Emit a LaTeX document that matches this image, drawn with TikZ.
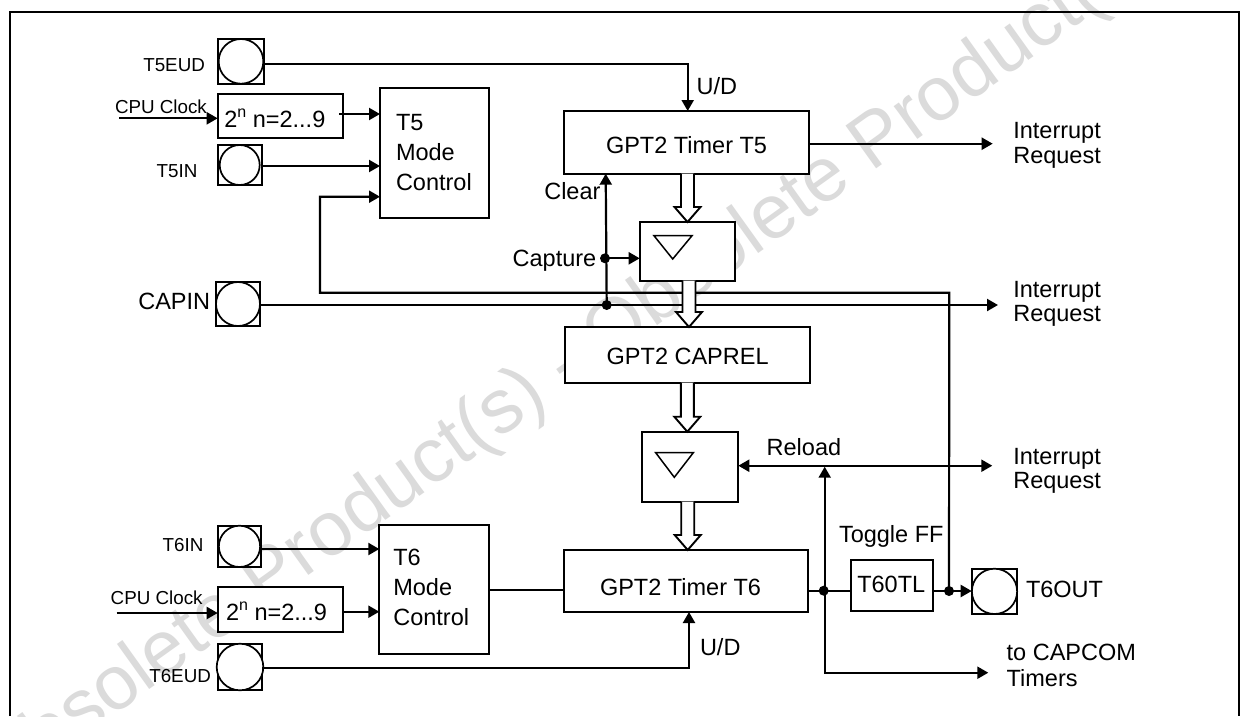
\documentclass[tikz,border=0pt]{standalone}
\usepackage{fontspec}
\setmainfont{Liberation Sans}
\usetikzlibrary{arrows.meta,calc}
\newcommand{\bigsz}{\fontsize{23.5}{25}\selectfont}
\newcommand{\smallsz}{\fontsize{18.8}{20}\selectfont}
\newcommand{\powtext}{2\raisebox{10pt}{\fontsize{16}{17}\selectfont n} n=2...9}
% box from corners
\newcommand{\boxn}[5]{\node[blockbox,minimum width={(#4-#2)*1pt},minimum height={(#5-#3)*1pt}] (#1) at ({(#2+#4)/2},{(#3+#5)/2}) {};}
% pad: square plus circle
\newcommand{\padn}[5]{\node[padbox,minimum width={(#4-#2)*1pt},minimum height={(#5-#3)*1pt}] (#1) at ({(#2+#4)/2},{(#3+#5)/2}) {};
 \node[padcircle,minimum size={(#5-#3)*1pt}] (#1c) at (#1.center) {};}
% hollow bus arrow: from, to, centre x
\newcommand{\hollow}[3]{
 \coordinate (htip) at (#2.north -| #3,0);
 \coordinate (hsrc) at (#1.south -| #3,0);
 \draw[hollowline,fill=white] ($(hsrc)+(-6.5,0)$) -- ($(htip)+(-6.5,-15)$) -- ($(htip)+(-13,-15)$) -- (htip) -- ($(htip)+(13,-15)$) -- ($(htip)+(6.5,-15)$) -- ($(hsrc)+(6.5,0)$);}
\tikzset{
 blockbox/.style={draw=black,fill=white,line width=2.2pt,inner sep=0pt,outer sep=0pt},
 padbox/.style={draw=black,fill=white,line width=2.2pt,inner sep=0pt,outer sep=0pt},
 padcircle/.style={draw=black,fill=white,circle,line width=1.7pt,inner sep=0pt,outer sep=0pt},
 wire/.style={draw=black,line width=2.2pt},
 thinwire/.style={draw=black,line width=1.7pt},
 arrowwire/.style={wire,-{Triangle[length=11pt,width=12pt]}},
 hollowline/.style={draw=black,line width=1.9pt,line join=miter},
 dotn/.style={circle,fill=black,inner sep=0pt,outer sep=0pt,minimum size=10pt},
 big/.style={anchor=base west,inner sep=0pt,outer sep=0pt,font=\bigsz},
 small/.style={anchor=base west,inner sep=0pt,outer sep=0pt,font=\smallsz},
 tri/.style={draw=black,line width=1.5pt,line join=miter},
}
\begin{document}
\begin{tikzpicture}[x=1pt,y=-1pt]
\useasboundingbox (0,0) rectangle (1241,716);
\fill[white] (0,0) rectangle (1241,716);
% watermark
\node[rotate=35.6,anchor=base,inner sep=0pt,text=black!14,font=\fontsize{76.5}{78}\selectfont] (wm) at (578,383) {Obsolete Product(s) - Obsolete Product(s)};
% frame
\draw[wire] (10,716) -- (10,12) -- (1239,12) -- (1239,716);
% blocks
\padn{pT5EUD}{217.7}{39}{264.3}{83.7}
\boxn{preA}{217.7}{94}{343}{137.7}
\padn{pT5IN}{217.7}{145}{261.7}{185}
\boxn{modeA}{380}{88}{489.3}{217.7}
\padn{pCAPIN}{216}{282}{260}{326}
\boxn{timerA}{564}{111}{809}{173.7}
\boxn{capt}{639.7}{222}{734.7}{280.7}
\boxn{caprel}{564.7}{327}{810.3}{382.7}
\boxn{reld}{642.3}{431.7}{738.3}{501.7}
\boxn{timerB}{564}{550}{808}{612}
\boxn{modeB}{379.3}{525}{489.3}{653.7}
\padn{pT6IN}{217.7}{525.7}{261.3}{567}
\boxn{preB}{217.7}{587}{343}{632}
\padn{pT6EUD}{217.7}{643.7}{262.3}{690.3}
\boxn{tl}{850.7}{560}{933.3}{611}
\padn{pT6OUT}{971.7}{568.7}{1017.3}{614}
% free ends and junctions
\coordinate (clkA) at (119.3,118.3);
\coordinate (clkB) at (116.7,613);
\coordinate (irqA) at (992.7,143.7);
\coordinate (irqB) at (998,305);
\coordinate (irqC) at (992.3,465.7);
\coordinate (capcom) at (988.3,672.7);
\node[dotn] (jCapture) at (605,258.3) {};
\node[dotn] (jCapin) at (606.7,305) {};
\node[dotn] (jTimerB) at (823.7,590.7) {};
\node[dotn] (jTl) at (949,591) {};
\coordinate (jReload) at (824.7,465.7);
% wires
\draw[arrowwire] (pT5EUD.east |- 0,63.7) -- (687.7,63.7) -- (687.7,111);
\draw[arrowwire] (clkA) -- (preA.west |- clkA);
\draw[arrowwire] (339,114) -- (modeA.west |- 339,114);
\draw[arrowwire] (pT5IN.east |- 0,166) -- (modeA.west |- 0,166);
\draw[arrowwire] (jTl.center) -- (949.3,292.7) -- (320,292.7) -- (320,196.7) -- (modeA.west |- 0,196.7);
\draw[arrowwire] (pCAPIN.east |- 0,305) -- (irqB);
\draw[arrowwire] (jCapin.center) -- (605.7,173.7);
\draw[arrowwire] (jCapture.center) -- (capt.west |- jCapture);
\draw[arrowwire] (timerA.east |- irqA) -- (irqA);
\draw[arrowwire] (jReload) -- (reld.east |- jReload);
\draw[arrowwire] (jReload) -- (irqC);
\draw[arrowwire] (824.7,590.7) -- (824.7,466.7);
\draw[arrowwire] (824.7,590.7) -- (824.7,672.7) -- (capcom);
\draw[wire] (timerB.east |- jTimerB) -- (jTimerB.center) -- (tl.west |- jTimerB);
\draw[arrowwire] (tl.east |- jTl) -- (pT6OUT.west |- jTl);
\draw[arrowwire] (pT6EUD.east |- 0,667.7) -- (689,667.7) -- (689,612);
\draw[arrowwire] (pT6IN.east |- 0,549) -- (modeB.west |- 0,549);
\draw[arrowwire] (clkB) -- (preB.west |- clkB);
\draw[arrowwire] (preB.east |- 0,611.7) -- (modeB.west |- 0,611.7);
\draw[thinwire] (modeB.east |- 0,589.7) -- (timerB.west |- 0,589.7);
% bus arrows
\hollow{timerA}{capt}{687.5}
\hollow{capt}{caprel}{689}
\hollow{caprel}{reld}{687.3}
\hollow{reld}{timerB}{687.7}
% triangles
\draw[tri] (654,235.7) -- (692,235.7) -- (672.7,259) -- cycle;
\draw[tri] (655.7,452.7) -- (693.3,452.7) -- (674.3,477.3) -- cycle;
% labels
\node[small] (lT5EUD) at (143.3,71) {T5EUD};
\node[small] (lClkA) at (115,113.3) {CPU Clock};
\node[big] (lPreA) at (224.3,127.7) {\powtext};
\node[small] (lT5IN) at (156.7,177) {T5IN};
\node[big] (lM1) at (396,130) {T5};
\node[big] (lM2) at (396,160) {Mode};
\node[big] (lM3) at (396,190) {Control};
\node[big] (lCAPIN) at (138.3,309) {CAPIN};
\node[big] (lTimerA) at (606,153.3) {GPT2 Timer T5};
\node[big] (lUDa) at (696.7,94) {U/D};
\node[big] (lClear) at (544.3,199.3) {Clear};
\node[big] (lCapture) at (512.7,266) {Capture};
\node[big] (lCaprel) at (606.7,364.3) {GPT2 CAPREL};
\node[big] (lReload) at (766.7,455) {Reload};
\node[big] (lIa) at (1013.3,138.7) {Interrupt};
\node[big] (lRa) at (1013.3,163.3) {Request};
\node[big] (lIb) at (1013.3,297.3) {Interrupt};
\node[big] (lRb) at (1013.3,321.7) {Request};
\node[big] (lIc) at (1013.3,464) {Interrupt};
\node[big] (lRc) at (1013.3,488.3) {Request};
\node[big] (lToggle) at (839,542.3) {Toggle FF};
\node[big] (lTl) at (857.3,592.7) {T60TL};
\node[big] (lT6OUT) at (1026,597.7) {T6OUT};
\node[big] (lUDb) at (700,655.7) {U/D};
\node[big] (lCc) at (1006.7,660.7) {to CAPCOM};
\node[big] (lTm) at (1006.7,686) {Timers};
\node[big] (lTimerB) at (600,595) {GPT2 Timer T6};
\node[small] (lT6IN) at (162.7,551.7) {T6IN};
\node[small] (lClkB) at (110.7,604.3) {CPU Clock};
\node[big] (lPreB) at (226,620.7) {\powtext};
\node[big] (lN1) at (393.3,565) {T6};
\node[big] (lN2) at (393.3,595) {Mode};
\node[big] (lN3) at (393.3,625) {Control};
\node[small] (lT6EUD) at (149.3,682.3) {T6EUD};
\end{tikzpicture}
\end{document}
